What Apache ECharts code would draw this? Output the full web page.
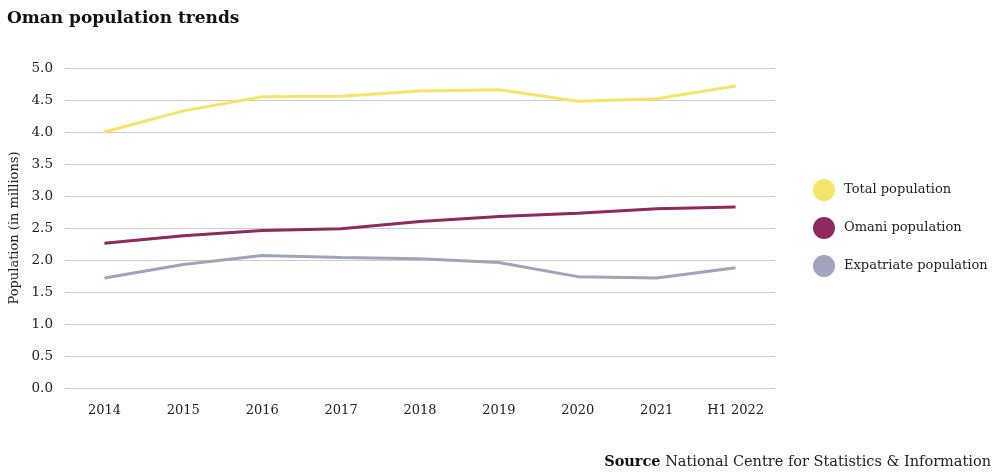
<!DOCTYPE html>
<html><head><meta charset="utf-8">
<script src="https://cdn.jsdelivr.net/npm/echarts@6/dist/echarts.min.js"></script>
<style>html,body{margin:0;padding:0;background:#fff}#c{width:1000px;height:474px}</style>
</head><body><div id="c"></div>
<script>
const categories = ['2014','2015','2016','2017','2018','2019','2020','2021','H1 2022'];
const totalPop = [4.00, 4.33, 4.55, 4.56, 4.64, 4.66, 4.48, 4.52, 4.72];
const omaniPop = [2.26, 2.38, 2.46, 2.49, 2.60, 2.68, 2.73, 2.80, 2.83];
const expatPop = [1.72, 1.93, 2.07, 2.04, 2.02, 1.96, 1.74, 1.72, 1.88];
const yTicks = [0, 0.5, 1, 1.5, 2, 2.5, 3, 3.5, 4, 4.5, 5];

const FONT = 'DejaVu Serif';
const chart = echarts.init(document.getElementById('c'));
chart.setOption({
  animation: false,
  textStyle: {fontFamily: FONT, color: '#222'},
  title: [
    {text: 'Oman population trends', left: 2, top: 5,
     textStyle: {fontFamily: FONT, fontWeight: 'bold', fontSize: 17, color: '#111'}},
    {text: '{b|Source} National Centre for Statistics & Information', right: 4, top: 450,
     textStyle: {fontFamily: FONT, fontWeight: 'normal', fontSize: 14.5, color: '#222',
       rich: {b: {fontFamily: FONT, fontWeight: 'bold', fontSize: 14.5, color: '#111'}}}}
  ],
  legend: {
    orient: 'vertical', left: 808, top: 174, itemGap: 16,
    icon: 'circle', itemWidth: 22, itemHeight: 22,
    textStyle: {fontFamily: FONT, fontSize: 13, color: '#222', padding: [0,0,0,4]},
    data: ['Total population', 'Omani population', 'Expatriate population']
  },
  grid: {left: 65, right: 225, top: 68, bottom: 86, containLabel: false, outerBoundsMode: 'none'},
  xAxis: {
    type: 'category', data: categories, boundaryGap: true,
    axisLine: {show: false}, axisTick: {show: false},
    axisLabel: {fontFamily: FONT, fontSize: 13, color: '#222', margin: 16}
  },
  yAxis: {
    type: 'value', min: 0, max: 5, interval: 0.5,
    name: 'Population (in millions)', nameLocation: 'middle', nameGap: 44, nameRotate: 90,
    nameTextStyle: {fontFamily: FONT, fontSize: 13, color: '#222'},
    axisLine: {show: false}, axisTick: {show: false},
    axisLabel: {fontFamily: FONT, fontSize: 13.5, color: '#222', margin: 12,
      formatter: v => v.toFixed(1)},
    splitLine: {lineStyle: {color: '#cccccc', width: 1}}
  },
  series: [
    {name: 'Total population', type: 'line', data: totalPop, symbol: 'none',
     lineStyle: {width: 3, color: '#f6e46a'}, itemStyle: {color: '#f6e46a'}},
    {name: 'Omani population', type: 'line', data: omaniPop, symbol: 'none',
     lineStyle: {width: 3, color: '#8e2a5c'}, itemStyle: {color: '#8e2a5c'}},
    {name: 'Expatriate population', type: 'line', data: expatPop, symbol: 'none',
     lineStyle: {width: 3, color: '#a0a4ba'}, itemStyle: {color: '#a0a4ba'}}
  ]
});
</script></body></html>
